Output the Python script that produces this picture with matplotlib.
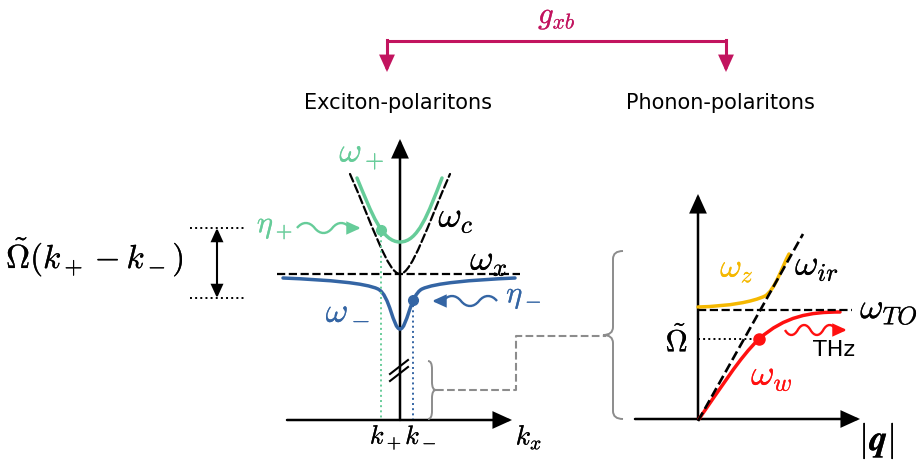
import numpy as np
import matplotlib
matplotlib.use('Agg')
import matplotlib.pyplot as plt
from matplotlib.path import Path
from matplotlib.patches import PathPatch, FancyArrowPatch
import matplotlib.patheffects as pe

plt.rcParams['mathtext.fontset'] = 'cm'
plt.rcParams['font.family'] = ['DejaVu Sans']

# ---------------- colours ----------------
GREEN = '#66cc99'
BLUE = '#3465a4'
RED = '#ff1010'
ORANGE = '#f5b800'
MAGENTA = '#c2145f'
GRAY = '#8c8c8c'

# ---------------- schematic data (pixel-space control points) ----------------
# left panel: exciton-polaritons
omega_c_ctrl = [(350, 175), (372, 225), (388, 275), (400, 275),
                (412, 275), (428, 225), (450, 175)]
omega_plus_ctrl = [(357, 179), (372, 215), (382, 243), (400, 243),
                   (418, 243), (428, 215), (442, 179)]
omega_minus_ctrl = [(283, 279), (330, 281), (365, 284), (378, 290),
                    (390, 296), (393, 330), (400, 330),
                    (407, 330), (410, 296), (422, 290),
                    (435, 284), (470, 281), (515, 279)]
omega_x_line = [(277, 275), (520, 275)]
eta_plus_point = (381, 231)
eta_minus_point = (413, 301)
k_plus_x = 381
k_minus_x = 413

# right panel: phonon-polaritons
omega_ir_line = [(698, 422), (803, 235)]
omega_TO_line = [(698, 311), (852, 311)]
omega_z_ctrl = [(698, 308), (730, 307), (752, 303), (765, 297),
                (775, 291), (782, 268), (789, 255)]
omega_w_ctrl = [(699, 420), (720, 390), (740, 358), (759, 340),
                (785, 317), (810, 313), (840, 313)]
omega_w_point = (759, 340)

fig = plt.figure(figsize=(9.22, 4.64), dpi=100)
ax = fig.add_axes([0, 0, 1, 1])
ax.set_xlim(0, 922)
ax.set_ylim(464, 0)
ax.axis('off')


def label(x, y, s, size, color='k', stroke=0.15, **kw):
    t = ax.text(x, y, s, fontsize=size, color=color, ha='center', va='center', **kw)
    if stroke:
        t.set_path_effects([pe.withStroke(linewidth=stroke, foreground=color)])
    return t


def bezier(ctrl, **kw):
    codes = [Path.MOVETO] + [Path.CURVE4] * (len(ctrl) - 1)
    p = PathPatch(Path(ctrl, codes), fill=False, capstyle='round', **kw)
    ax.add_patch(p)


def arrow(p0, p1, color='k', lw=1.8, ms=16, style='-|>,head_length=0.55,head_width=0.25'):
    a = FancyArrowPatch(p0, p1, arrowstyle=style, mutation_scale=ms,
                        color=color, lw=lw, shrinkA=0, shrinkB=0,
                        joinstyle='miter')
    ax.add_patch(a)


def wavy(x0, x1, y, n_half, amp, color, lw=1.7, head=11, start=-1):
    # wiggle built from cubic Bezier half waves
    xe = x1 - head if x1 > x0 else x1 + head
    step = (xe - x0) / n_half
    verts = [(x0, y)]
    codes = [Path.MOVETO]
    sign = start
    for i in range(n_half):
        xa = x0 + i * step
        xb = xa + step
        verts += [(xa + step * 0.3, y + sign * amp * 1.33),
                  (xb - step * 0.3, y + sign * amp * 1.33), (xb, y)]
        codes += [Path.CURVE4] * 3
        sign = -sign
    ax.add_patch(PathPatch(Path(verts, codes), fill=False, color=color, lw=lw))
    arrow((xe + (1 if x1 > x0 else -1) * -2, y), (x1, y), color=color, lw=lw, ms=14)


def brace(x_arm, y0, y1, x_tip, color=GRAY, lw=1.4):
    # curly brace with arms at x_arm and tip at x_tip (middle)
    xm = (x_arm + x_tip) / 2
    ym = (y0 + y1) / 2
    r = 8
    verts = [(x_arm, y0), (xm, y0), (xm, y0 + r),
             (xm, ym - r),
             (xm, ym), (x_tip, ym),
             (xm, ym), (xm, ym + r),
             (xm, y1 - r),
             (xm, y1), (x_arm, y1)]
    codes = [Path.MOVETO, Path.CURVE3, Path.CURVE3,
             Path.LINETO,
             Path.CURVE3, Path.CURVE3,
             Path.CURVE3, Path.CURVE3,
             Path.LINETO,
             Path.CURVE3, Path.CURVE3]
    ax.add_patch(PathPatch(Path(verts, codes), fill=False, color=color, lw=lw))


# ---------------- top: coupling bracket ----------------
ax.plot([387, 726], [42, 42], color=MAGENTA, lw=2.2, solid_capstyle='butt')
ax.plot([387, 387], [41, 62], color=MAGENTA, lw=2.2)
ax.plot([726, 726], [41, 62], color=MAGENTA, lw=2.2)
arrow((387, 58), (387, 73), color=MAGENTA, lw=2.2, ms=16)
arrow((726, 58), (726, 73), color=MAGENTA, lw=2.2, ms=16)
label(557, 18, r'$g_{xb}$', 22, MAGENTA)
ax.text(398, 103, 'Exciton-polaritons', fontsize=15, ha='center', va='center')
ax.text(720, 103, 'Phonon-polaritons', fontsize=15, ha='center', va='center')

# ---------------- left panel ----------------
arrow((287, 421), (512, 421), lw=1.8, ms=20)
arrow((400, 421), (400, 140), lw=1.8, ms=20)
ax.plot([390, 408], [375, 361], color='k', lw=1.5)
ax.plot([390, 408], [382, 368], color='k', lw=1.5)

ax.plot(*zip(*omega_x_line), color='k', lw=1.6, ls='--')
bezier(omega_c_ctrl, color='k', lw=1.6, ls='--')
bezier(omega_plus_ctrl, color=GREEN, lw=2.5)
bezier(omega_minus_ctrl, color=BLUE, lw=2.5)

ax.plot([k_plus_x, k_plus_x], [eta_plus_point[1], 420], color=GREEN, lw=1.4, ls=':')
ax.plot([k_minus_x, k_minus_x], [eta_minus_point[1], 420], color=BLUE, lw=1.4, ls=':')
ax.plot(*eta_plus_point, 'o', color=GREEN, ms=7)
ax.plot(*eta_minus_point, 'o', color=BLUE, ms=7)

wavy(297, 361, 229, 3, 5, GREEN)
wavy(497, 432, 302, 3, 5, BLUE)

label(362, 155, r'$\omega_+$', 25, GREEN)
label(456, 219, r'$\omega_c$', 26)
label(489, 262, r'$\omega_x$', 26)
label(348, 313, r'$\omega_-$', 25, BLUE)
label(275, 228, r'$\eta_+$', 22, GREEN)
label(524, 298, r'$\eta_-$', 22, BLUE)
label(386, 438, r'$k_+$', 19)
label(421, 438, r'$k_-$', 19)
label(529, 438, r'$k_x$', 20)

# Omega tilde gap marker
ax.plot([190, 245], [229, 229], color='k', lw=1.4, ls=':')
ax.plot([190, 245], [299, 299], color='k', lw=1.4, ls=':')
arrow((217, 264), (217, 229), lw=1.5, ms=14)
arrow((217, 264), (217, 299), lw=1.5, ms=14)
label(95, 258, r'$\tilde{\Omega}(k_+ - k_-)$', 24, stroke=0.15)

# braces and connector
brace(428, 362, 420, 436)
ax.plot([436, 516, 516, 606], [391, 391, 337, 337], color=GRAY, lw=1.5, ls='--')
brace(623, 252, 420, 603)

# ---------------- right panel ----------------
arrow((635, 420), (860, 420), lw=1.8, ms=20)
arrow((698, 420), (698, 195), lw=1.8, ms=20)
ax.plot(*zip(*omega_ir_line), color='k', lw=1.9, ls='--')
ax.plot(*zip(*omega_TO_line), color='k', lw=1.6, ls='--')
bezier(omega_z_ctrl, color=ORANGE, lw=2.5)
bezier(omega_w_ctrl, color=RED, lw=2.5)
ax.plot([698, omega_w_point[0]], [omega_w_point[1]] * 2, color='k', lw=1.4, ls=':')
ax.plot(*omega_w_point, 'o', color=RED, ms=8)
wavy(785, 847, 331, 4, 5, RED, start=1)
ax.text(834, 350, 'THz', fontsize=16, ha='center', va='center')

label(737, 269, r'$\omega_z$', 24, ORANGE)
label(817, 267, r'$\omega_{ir}$', 26)
label(889, 311, r'$\omega_{TO}$', 26)
label(772, 377, r'$\omega_w$', 26, RED)
label(677, 342, r'$\tilde{\Omega}$', 22)
label(877, 442, r'$|\boldsymbol{q}|$', 26)

fig.savefig('out.png', dpi=100)
